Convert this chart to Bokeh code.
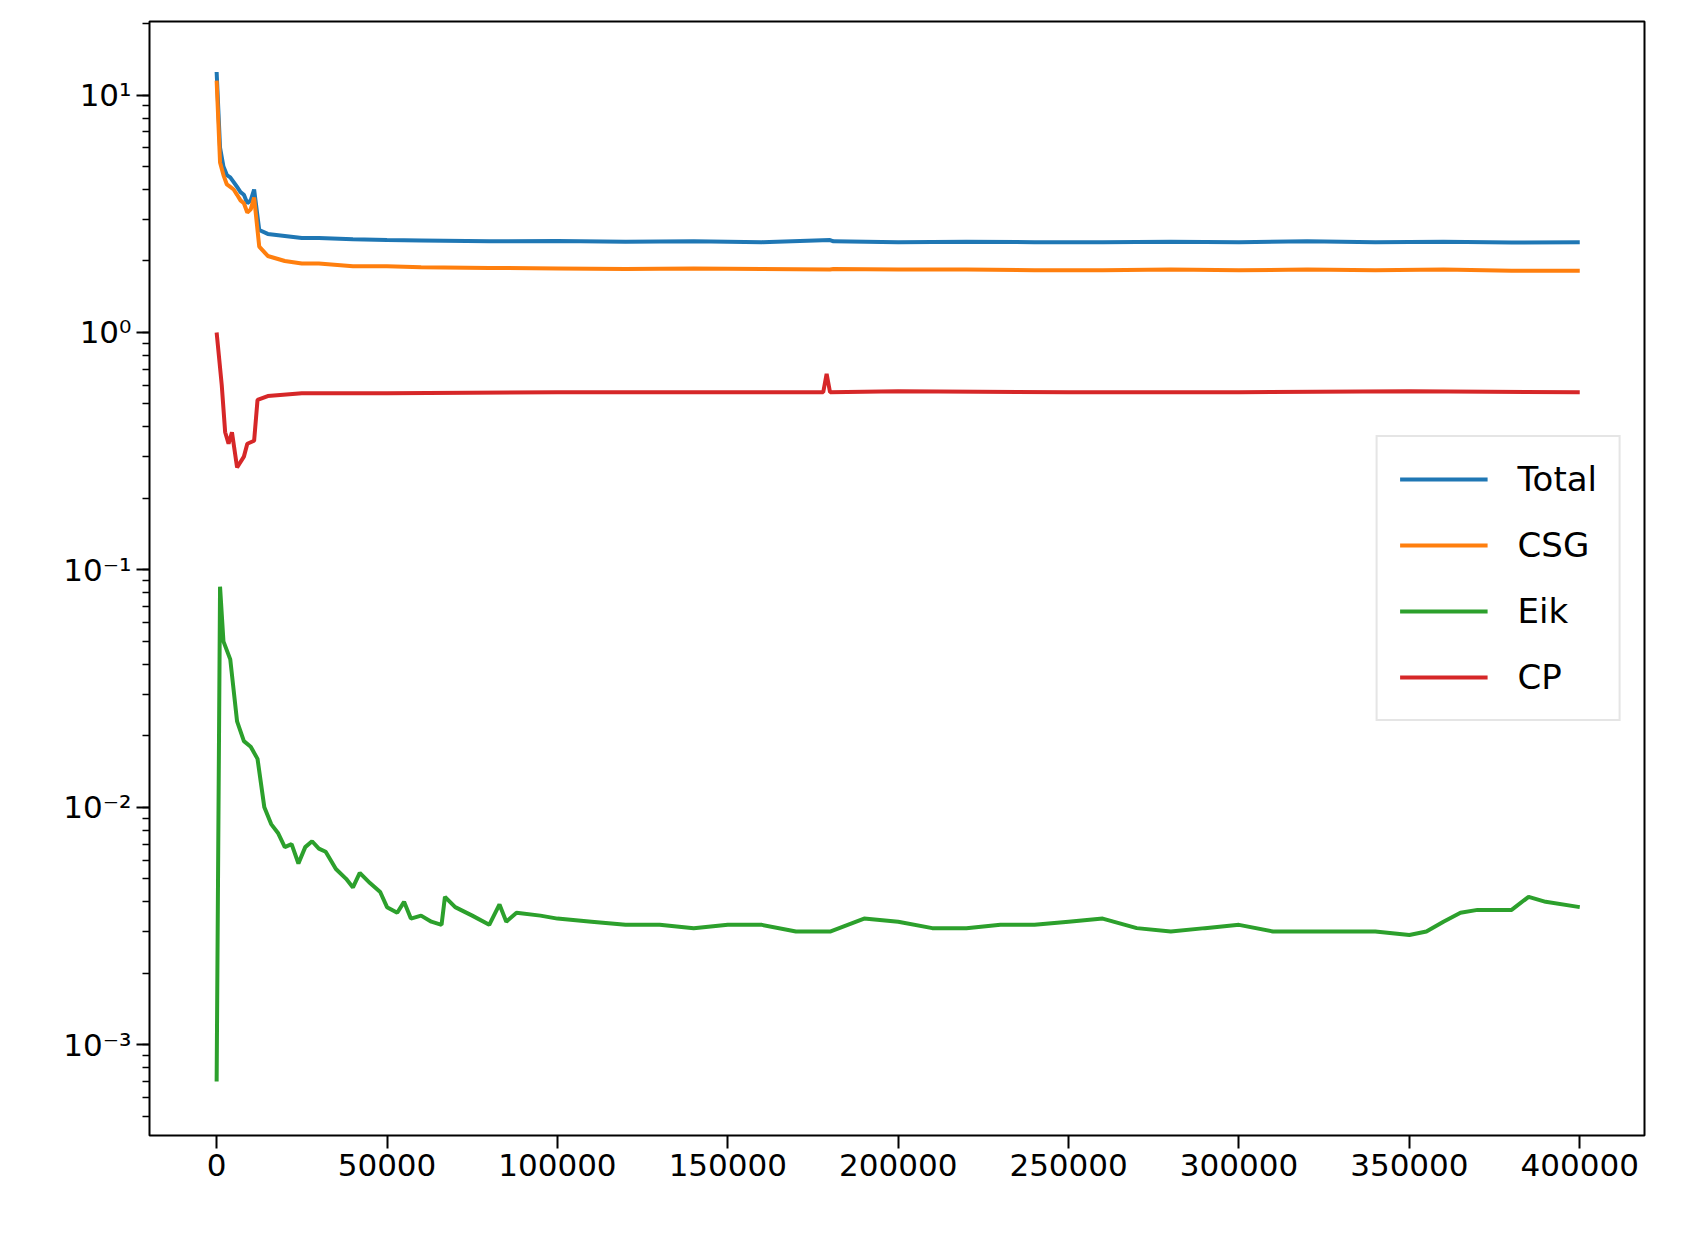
from bokeh.plotting import figure
from bokeh.models import Legend, LegendItem, FixedTicker, NumeralTickFormatter
from bokeh.embed import file_html
from bokeh.resources import INLINE

total_x = [0,1000,2000,3000,4000,5000,6000,7000,8000,9000,10000,11000,12500,15000,20000,25000,30000,40000,50000,60000,80000,100000,120000,140000,160000,180000,181000,200000,220000,240000,260000,280000,300000,320000,340000,360000,380000,400000]
total_y = [12.5,6.0,5.0,4.6,4.5,4.3,4.1,3.9,3.8,3.5,3.6,4.0,2.7,2.6,2.55,2.5,2.5,2.47,2.45,2.44,2.42,2.43,2.41,2.42,2.4,2.45,2.42,2.4,2.41,2.4,2.4,2.41,2.4,2.42,2.4,2.41,2.39,2.4]
csg_x = total_x
csg_y = [11.5,5.2,4.6,4.2,4.1,4.0,3.8,3.6,3.5,3.2,3.3,3.7,2.3,2.1,2.0,1.95,1.95,1.9,1.9,1.88,1.87,1.86,1.85,1.86,1.85,1.84,1.85,1.84,1.84,1.83,1.83,1.84,1.83,1.84,1.83,1.84,1.82,1.82]
cp_x = [0,1500,2500,3500,4500,6000,8000,9000,11000,12000,15000,25000,50000,100000,150000,178000,179000,180000,200000,250000,300000,350000,400000]
cp_y = [1.0,0.6,0.38,0.34,0.38,0.27,0.3,0.34,0.35,0.52,0.54,0.555,0.555,0.56,0.56,0.56,0.67,0.56,0.565,0.56,0.56,0.565,0.56]
eik_x = [0,1000,2000,4000,6000,8000,10000,12000,14000,16000,18000,20000,22000,24000,26000,28000,30000,32000,35000,38000,40000,42000,45000,48000,50000,53000,55000,57000,60000,63000,66000,67000,70000,75000,80000,83000,85000,88000,95000,100000,110000,120000,130000,140000,150000,160000,170000,180000,190000,200000,210000,220000,230000,240000,250000,260000,270000,280000,290000,300000,310000,320000,330000,340000,350000,355000,360000,365000,370000,380000,385000,390000,400000]
eik_y = [0.0007,0.085,0.05,0.042,0.023,0.019,0.018,0.016,0.01,0.0085,0.0078,0.0068,0.007,0.0058,0.0068,0.0072,0.0067,0.0065,0.0055,0.005,0.0046,0.0053,0.0048,0.0044,0.0038,0.0036,0.004,0.0034,0.0035,0.0033,0.0032,0.0042,0.0038,0.0035,0.0032,0.0039,0.0033,0.0036,0.0035,0.0034,0.0033,0.0032,0.0032,0.0031,0.0032,0.0032,0.003,0.003,0.0034,0.0033,0.0031,0.0031,0.0032,0.0032,0.0033,0.0034,0.0031,0.003,0.0031,0.0032,0.003,0.003,0.003,0.003,0.0029,0.003,0.0033,0.0036,0.0037,0.0037,0.0042,0.004,0.0038]

p = figure(width=1672, height=1223, y_axis_type="log", x_range=(-19700, 419000), y_range=(4.15e-4, 20.4),
           output_backend="svg", toolbar_location=None,
           min_border_left=149, min_border_top=21, min_border_right=28, min_border_bottom=88)
p.grid.visible = False
p.outline_line_color = "black"
p.outline_line_width = 2
p.background_fill_color = "white"

cols = ["#1f77b4", "#ff7f0e", "#2ca02c", "#d62728"]
r1 = p.line(total_x, total_y, color=cols[0], line_width=4)
r2 = p.line(csg_x, csg_y, color=cols[1], line_width=4)
r3 = p.line(eik_x, eik_y, color=cols[2], line_width=4)
r4 = p.line(cp_x, cp_y, color=cols[3], line_width=4)

p.xaxis.ticker = FixedTicker(ticks=[0,50000,100000,150000,200000,250000,300000,350000,400000])
p.xaxis.formatter = NumeralTickFormatter(format="0")
p.yaxis.ticker.desired_num_ticks = 5
p.yaxis.major_label_overrides = {1e-3: "10⁻³", 1e-2: "10⁻²", 1e-1: "10⁻¹", 1: "10⁰", 10: "10¹"}
for ax in (p.xaxis[0], p.yaxis[0]):
    ax.major_label_text_font = "DejaVu Sans"
    ax.major_label_text_font_size = "31px"
    ax.major_label_text_color = "black"
    ax.axis_line_color = None
    ax.major_tick_line_width = 2
    ax.major_tick_out = 13
    ax.major_tick_in = 0
    ax.minor_tick_out = 7
    ax.minor_tick_in = 0
    ax.minor_tick_line_width = 1.5
p.xaxis.minor_tick_line_color = None

legend = Legend(items=[LegendItem(label="Total", renderers=[r1]), LegendItem(label="CSG", renderers=[r2]),
                       LegendItem(label="Eik", renderers=[r3]), LegendItem(label="CP", renderers=[r4])],
                location="center_right", label_text_font="DejaVu Sans", label_text_font_size="34px",
                label_text_color="black",
                glyph_width=88, glyph_height=36, label_standoff=30, spacing=26, padding=22, margin=23,
                border_line_color="#cccccc", border_line_width=2, background_fill_alpha=0.8)
p.add_layout(legend)

open("out.html", "w").write(file_html(p, INLINE))
